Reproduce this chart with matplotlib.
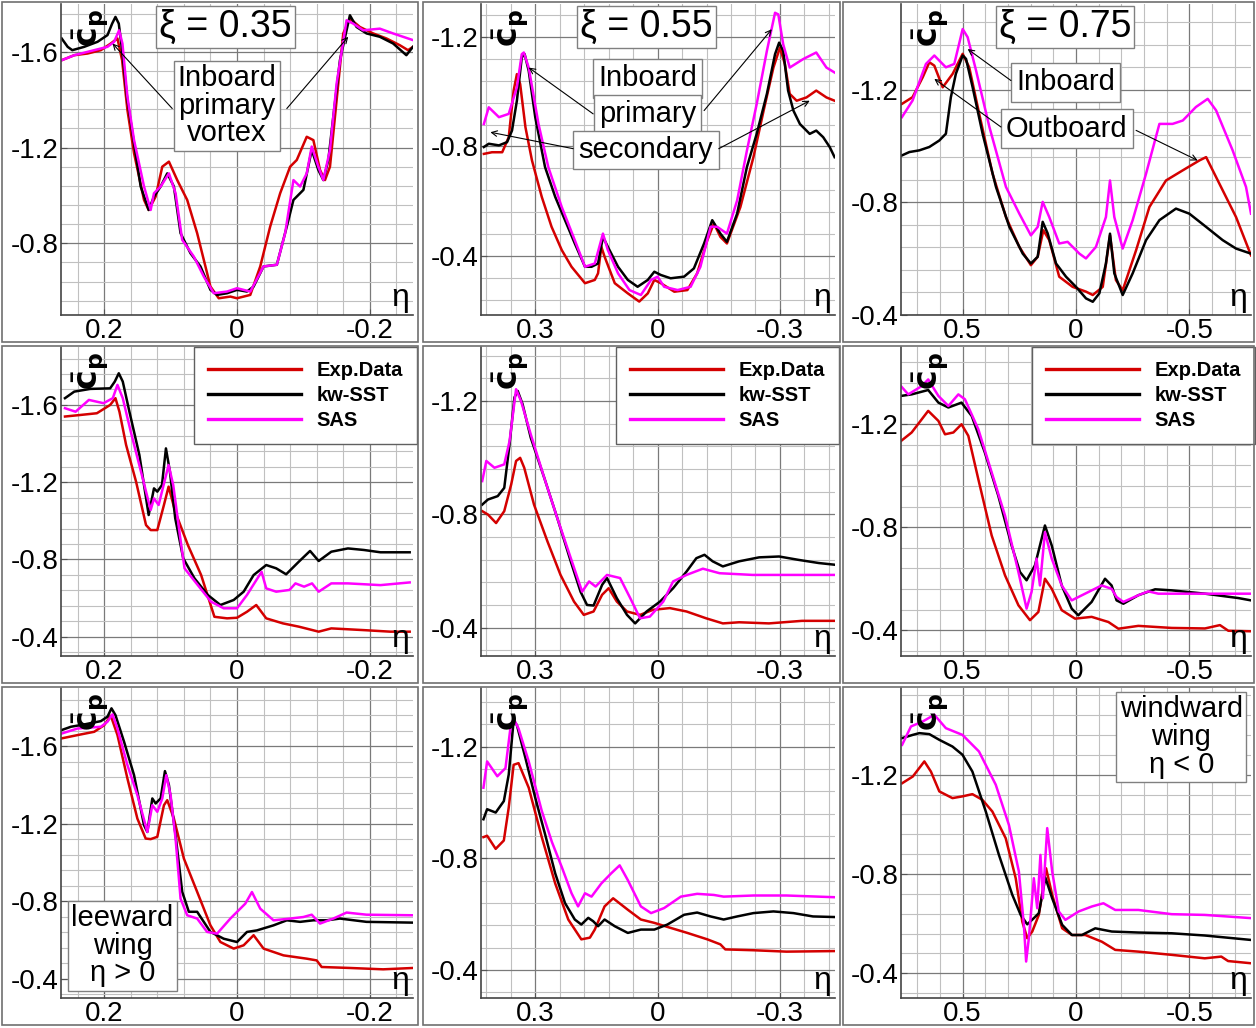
import matplotlib
matplotlib.use('Agg')
import matplotlib.pyplot as plt
from matplotlib.ticker import MultipleLocator, FuncFormatter
from matplotlib.patches import Rectangle

plt.rcParams['font.family'] = ['Liberation Sans', 'DejaVu Sans']
plt.rcParams['axes.unicode_minus'] = False

# ---------------- xi = 0.35, first row ----------------
eta_a_sst = [0.264, 0.255, 0.248, 0.230, 0.210, 0.195, 0.188, 0.183, 0.178, 0.173, 0.165, 0.155, 0.145, 0.133,
             0.125, 0.115, 0.105, 0.095, 0.085, 0.070, 0.055, 0.040, 0.030, 0.015, 0.000, -0.015, -0.025, -0.040,
             -0.060, -0.075, -0.085, -0.100, -0.1125, -0.1225, -0.130, -0.1375, -0.145, -0.155, -0.170, -0.180,
             -0.195, -0.215, -0.235, -0.255, -0.265]
cp_a_sst = [-1.656, -1.621, -1.607, -1.621, -1.642, -1.670, -1.718, -1.746, -1.718, -1.607, -1.398, -1.217, -1.037,
            -0.939, -0.995, -1.037, -1.092, -1.037, -0.842, -0.758, -0.703, -0.605, -0.584, -0.591, -0.605, -0.598,
            -0.619, -0.703, -0.710, -0.870, -0.981, -1.023, -1.190, -1.106, -1.064, -1.148, -1.329, -1.565, -1.753,
            -1.704, -1.677, -1.663, -1.635, -1.586, -1.621]
eta_a_exp = [0.264, 0.245, 0.225, 0.205, 0.190, 0.180, 0.173, 0.165, 0.155, 0.140, 0.133, 0.1225, 0.1125, 0.1025,
             0.090, 0.075, 0.060, 0.040, 0.0275, 0.010, 0.000, -0.020, -0.035, -0.050, -0.065, -0.080, -0.090,
             -0.105, -0.115, -0.125, -0.1325, -0.140, -0.150, -0.160, -0.170, -0.185, -0.205, -0.225, -0.245,
             -0.2575, -0.265]
cp_a_exp = [-1.565, -1.586, -1.593, -1.607, -1.635, -1.656, -1.565, -1.357, -1.176, -0.981, -0.939, -0.995, -1.120,
            -1.141, -1.064, -0.981, -0.842, -0.619, -0.570, -0.577, -0.570, -0.584, -0.703, -0.870, -1.009, -1.120,
            -1.148, -1.245, -1.231, -1.106, -1.064, -1.120, -1.398, -1.677, -1.739, -1.704, -1.677, -1.656, -1.628,
            -1.607, -1.621]
eta_a_sas = [0.264, 0.245, 0.215, 0.195, 0.185, 0.1775, 0.1725, 0.165, 0.155, 0.140, 0.130, 0.125, 0.115, 0.1025,
             0.0925, 0.0825, 0.065, 0.050, 0.035, 0.015, 0.000, -0.020, -0.040, -0.060, -0.0725, -0.085, -0.095,
             -0.105, -0.1125, -0.1225, -0.130, -0.140, -0.150, -0.165, -0.175, -0.190, -0.215, -0.235, -0.265]
cp_a_sas = [-1.565, -1.586, -1.607, -1.621, -1.642, -1.690, -1.635, -1.412, -1.231, -1.037, -0.939, -1.009, -1.037,
            -1.092, -1.009, -0.814, -0.744, -0.661, -0.591, -0.598, -0.612, -0.598, -0.703, -0.710, -0.842, -1.064,
            -1.037, -1.092, -1.204, -1.120, -1.064, -1.190, -1.468, -1.732, -1.718, -1.690, -1.697, -1.677, -1.649]

# ---------------- xi = 0.55, first row ----------------
eta_b_sst = [0.426, 0.414, 0.389, 0.369, 0.357, 0.345, 0.333, 0.326, 0.316, 0.300, 0.276, 0.251, 0.227, 0.203,
             0.178, 0.162, 0.146, 0.134, 0.122, 0.097, 0.073, 0.049, 0.024, 0.008, -0.008, -0.032, -0.065, -0.089,
             -0.114, -0.134, -0.154, -0.170, -0.195, -0.219, -0.243, -0.268, -0.288, -0.298, -0.308, -0.320,
             -0.333, -0.349, -0.373, -0.389, -0.406, -0.422, -0.434]
cp_b_sst = [-0.798, -0.810, -0.804, -0.816, -0.858, -0.967, -1.125, -1.137, -1.076, -0.907, -0.725, -0.616, -0.531,
            -0.446, -0.361, -0.361, -0.373, -0.470, -0.434, -0.361, -0.313, -0.288, -0.313, -0.343, -0.331, -0.319,
            -0.325, -0.355, -0.446, -0.531, -0.482, -0.452, -0.555, -0.725, -0.846, -0.992, -1.137, -1.179, -1.149,
            -1.004, -0.931, -0.882, -0.846, -0.858, -0.834, -0.798, -0.761]
eta_b_exp = [0.426, 0.406, 0.381, 0.365, 0.353, 0.345, 0.337, 0.324, 0.308, 0.284, 0.260, 0.235, 0.211, 0.178,
             0.154, 0.146, 0.138, 0.130, 0.105, 0.073, 0.045, 0.024, 0.008, -0.008, -0.041, -0.073, -0.097, -0.122,
             -0.138, -0.154, -0.170, -0.203, -0.235, -0.260, -0.284, -0.300, -0.312, -0.324, -0.341, -0.365,
             -0.389, -0.414, -0.434]
cp_b_exp = [-0.773, -0.779, -0.779, -0.834, -1.004, -1.064, -1.028, -0.870, -0.749, -0.616, -0.507, -0.422, -0.361,
            -0.301, -0.313, -0.337, -0.434, -0.398, -0.301, -0.264, -0.234, -0.264, -0.313, -0.301, -0.270, -0.276,
            -0.337, -0.458, -0.519, -0.470, -0.446, -0.579, -0.761, -0.931, -1.088, -1.161, -1.101, -0.992, -0.967,
            -0.979, -1.004, -0.979, -0.967]
eta_b_sas = [0.426, 0.414, 0.389, 0.365, 0.345, 0.333, 0.328, 0.316, 0.292, 0.268, 0.235, 0.203, 0.178, 0.154,
             0.134, 0.122, 0.097, 0.069, 0.041, 0.016, 0.000, -0.016, -0.049, -0.081, -0.105, -0.130, -0.146,
             -0.170, -0.195, -0.219, -0.243, -0.268, -0.288, -0.296, -0.308, -0.324, -0.357, -0.389, -0.414, -0.434]
cp_b_sas = [-0.882, -0.943, -0.907, -0.919, -1.016, -1.137, -1.143, -1.088, -0.882, -0.725, -0.579, -0.458, -0.361,
            -0.373, -0.482, -0.422, -0.337, -0.276, -0.258, -0.313, -0.325, -0.288, -0.276, -0.288, -0.361, -0.507,
            -0.507, -0.482, -0.603, -0.785, -0.955, -1.149, -1.288, -1.282, -1.173, -1.088, -1.119, -1.143, -1.088,
            -1.070]

# ---------------- xi = 0.75, first row ----------------
eta_c_sst = [0.768, 0.735, 0.691, 0.647, 0.603, 0.574, 0.552, 0.530, 0.500, 0.485, 0.456, 0.412, 0.353, 0.294,
             0.235, 0.199, 0.169, 0.147, 0.125, 0.088, 0.044, 0.000, -0.044, -0.074, -0.103, -0.132, -0.150, -0.169,
             -0.206, -0.250, -0.309, -0.368, -0.441, -0.500, -0.574, -0.647, -0.706, -0.772]
cp_c_sst = [-0.967, -0.979, -0.985, -0.997, -1.020, -1.044, -1.174, -1.257, -1.322, -1.310, -1.209, -1.044, -0.855,
            -0.713, -0.618, -0.583, -0.607, -0.731, -0.690, -0.583, -0.536, -0.500, -0.459, -0.447, -0.477, -0.583,
            -0.689, -0.548, -0.471, -0.548, -0.666, -0.737, -0.778, -0.760, -0.713, -0.666, -0.636, -0.618]
eta_c_exp = [0.768, 0.721, 0.676, 0.647, 0.625, 0.588, 0.544, 0.500, 0.471, 0.427, 0.368, 0.309, 0.250, 0.199,
             0.169, 0.144, 0.118, 0.074, 0.015, -0.044, -0.074, -0.118, -0.150, -0.176, -0.206, -0.265, -0.324,
             -0.397, -0.471, -0.544, -0.574, -0.618, -0.706, -0.772]
cp_c_exp = [-1.150, -1.174, -1.245, -1.298, -1.286, -1.209, -1.257, -1.328, -1.280, -1.115, -0.902, -0.748, -0.642,
            -0.577, -0.607, -0.701, -0.666, -0.536, -0.500, -0.483, -0.471, -0.500, -0.683, -0.524, -0.488, -0.630,
            -0.784, -0.878, -0.914, -0.949, -0.961, -0.890, -0.748, -0.612]
eta_c_sas = [0.768, 0.721, 0.662, 0.625, 0.574, 0.537, 0.500, 0.478, 0.441, 0.382, 0.309, 0.250, 0.199, 0.169,
             0.147, 0.118, 0.074, 0.037, -0.015, -0.044, -0.088, -0.132, -0.150, -0.169, -0.206, -0.250, -0.309,
             -0.368, -0.426, -0.471, -0.529, -0.581, -0.618, -0.691, -0.750, -0.772]
cp_c_sas = [-1.103, -1.162, -1.292, -1.322, -1.280, -1.292, -1.416, -1.387, -1.269, -1.068, -0.855, -0.760, -0.683,
            -0.713, -0.802, -0.748, -0.654, -0.660, -0.618, -0.601, -0.642, -0.748, -0.878, -0.748, -0.636, -0.737,
            -0.902, -1.079, -1.079, -1.091, -1.139, -1.168, -1.127, -0.985, -0.855, -0.760]

# ---------------- xi = 0.35, second row ----------------
eta_d_sst = [0.259, 0.245, 0.221, 0.191, 0.184, 0.178, 0.172, 0.162, 0.147, 0.133, 0.125, 0.120, 0.113, 0.107,
             0.101, 0.093, 0.081, 0.064, 0.044, 0.025, 0.005, -0.010, -0.025, -0.044, -0.059, -0.074, -0.093,
             -0.110, -0.123, -0.142, -0.167, -0.191, -0.216, -0.260]
cp_d_sst = [-1.635, -1.669, -1.683, -1.686, -1.721, -1.764, -1.721, -1.565, -1.341, -1.030, -1.168, -1.151, -1.185,
            -1.375, -1.255, -1.013, -0.806, -0.702, -0.616, -0.564, -0.590, -0.633, -0.719, -0.771, -0.754, -0.723,
            -0.788, -0.844, -0.792, -0.840, -0.857, -0.849, -0.837, -0.837]
eta_d_exp = [0.259, 0.236, 0.211, 0.191, 0.183, 0.177, 0.167, 0.152, 0.137, 0.130, 0.120, 0.110, 0.103, 0.093,
             0.074, 0.054, 0.034, 0.015, 0.000, -0.015, -0.029, -0.044, -0.069, -0.093, -0.123, -0.142, -0.191,
             -0.231, -0.260]
cp_d_exp = [-1.540, -1.548, -1.557, -1.600, -1.635, -1.565, -1.393, -1.203, -0.978, -0.952, -0.952, -1.082, -1.177,
            -1.047, -0.875, -0.719, -0.503, -0.495, -0.498, -0.529, -0.564, -0.495, -0.469, -0.452, -0.426, -0.443,
            -0.434, -0.426, -0.426]
eta_d_sas = [0.259, 0.243, 0.223, 0.201, 0.187, 0.180, 0.172, 0.160, 0.142, 0.130, 0.125, 0.118, 0.108, 0.103,
             0.096, 0.086, 0.079, 0.059, 0.039, 0.020, 0.000, -0.015, -0.037, -0.044, -0.059, -0.079, -0.088,
             -0.101, -0.113, -0.123, -0.142, -0.167, -0.216, -0.260]
cp_d_sas = [-1.583, -1.565, -1.626, -1.609, -1.635, -1.704, -1.635, -1.462, -1.220, -1.056, -1.116, -1.082, -1.220,
            -1.289, -1.185, -0.926, -0.754, -0.667, -0.581, -0.547, -0.547, -0.616, -0.736, -0.650, -0.633, -0.642,
            -0.676, -0.659, -0.676, -0.633, -0.676, -0.676, -0.667, -0.681]

# ---------------- xi = 0.55, second row ----------------
eta_e_sst = [0.430, 0.416, 0.392, 0.376, 0.363, 0.351, 0.343, 0.331, 0.311, 0.278, 0.246, 0.213, 0.189, 0.173,
             0.157, 0.136, 0.124, 0.100, 0.075, 0.055, 0.027, -0.006, -0.038, -0.071, -0.095, -0.115, -0.135,
             -0.160, -0.200, -0.249, -0.298, -0.346, -0.395, -0.434]
cp_e_sst = [-0.834, -0.852, -0.864, -0.893, -1.047, -1.212, -1.235, -1.188, -1.070, -0.929, -0.787, -0.634, -0.527,
            -0.480, -0.478, -0.551, -0.575, -0.504, -0.445, -0.415, -0.457, -0.492, -0.539, -0.598, -0.645, -0.657,
            -0.634, -0.616, -0.634, -0.648, -0.651, -0.639, -0.628, -0.622]
eta_e_exp = [0.430, 0.416, 0.396, 0.376, 0.359, 0.347, 0.337, 0.327, 0.303, 0.270, 0.238, 0.205, 0.181, 0.157,
             0.136, 0.120, 0.100, 0.075, 0.043, 0.011, -0.030, -0.071, -0.119, -0.160, -0.200, -0.273, -0.354, -0.434]
cp_e_exp = [-0.811, -0.799, -0.769, -0.811, -0.905, -0.988, -0.999, -0.964, -0.834, -0.704, -0.586, -0.492, -0.445,
            -0.457, -0.516, -0.539, -0.492, -0.457, -0.445, -0.463, -0.469, -0.457, -0.433, -0.415, -0.419, -0.415,
            -0.424, -0.424]
eta_e_sas = [0.430, 0.420, 0.400, 0.376, 0.363, 0.347, 0.335, 0.311, 0.278, 0.246, 0.213, 0.185, 0.168, 0.152,
             0.124, 0.092, 0.067, 0.043, 0.019, -0.014, -0.038, -0.071, -0.111, -0.152, -0.233, -0.314, -0.434]
cp_e_sas = [-0.917, -0.988, -0.964, -0.976, -1.058, -1.241, -1.200, -1.082, -0.929, -0.787, -0.646, -0.527, -0.563,
            -0.545, -0.586, -0.575, -0.504, -0.433, -0.439, -0.492, -0.563, -0.586, -0.608, -0.592, -0.586, -0.586,
            -0.586]

# ---------------- xi = 0.75, second row ----------------
eta_f_sst = [0.772, 0.725, 0.652, 0.607, 0.563, 0.505, 0.460, 0.402, 0.343, 0.284, 0.247, 0.218, 0.181, 0.137,
             0.107, 0.063, 0.019, -0.010, -0.069, -0.128, -0.157, -0.179, -0.209, -0.275, -0.349, -0.422, -0.569,
             -0.716, -0.772]
cp_f_sst = [-1.310, -1.316, -1.333, -1.284, -1.265, -1.284, -1.232, -1.090, -0.923, -0.729, -0.626, -0.594, -0.652,
            -0.807, -0.729, -0.574, -0.484, -0.458, -0.510, -0.600, -0.574, -0.516, -0.503, -0.536, -0.559, -0.555,
            -0.542, -0.525, -0.516]
eta_f_exp = [0.772, 0.725, 0.652, 0.607, 0.578, 0.541, 0.505, 0.475, 0.431, 0.372, 0.313, 0.254, 0.203, 0.166,
             0.137, 0.107, 0.063, 0.004, -0.069, -0.143, -0.187, -0.275, -0.422, -0.569, -0.635, -0.672, -0.772]
cp_f_exp = [-1.135, -1.168, -1.252, -1.213, -1.161, -1.168, -1.200, -1.155, -0.987, -0.768, -0.613, -0.497, -0.439,
            -0.471, -0.600, -0.561, -0.478, -0.445, -0.452, -0.432, -0.406, -0.417, -0.409, -0.407, -0.420, -0.398,
            -0.396]
eta_f_sas = [0.772, 0.740, 0.681, 0.652, 0.607, 0.563, 0.519, 0.490, 0.431, 0.372, 0.313, 0.254, 0.218, 0.196,
             0.174, 0.159, 0.137, 0.107, 0.063, 0.019, -0.040, -0.113, -0.157, -0.179, -0.209, -0.275, -0.319,
             -0.363, -0.496, -0.772]
cp_f_sas = [-1.348, -1.316, -1.348, -1.374, -1.310, -1.271, -1.316, -1.297, -1.181, -1.013, -0.845, -0.626, -0.484,
            -0.549, -0.678, -0.574, -0.781, -0.678, -0.574, -0.516, -0.542, -0.574, -0.561, -0.529, -0.510, -0.536,
            -0.551, -0.542, -0.542, -0.542]

# ---------------- xi = 0.35, third row ----------------
eta_g_sst = [0.264, 0.250, 0.230, 0.205, 0.195, 0.189, 0.183, 0.170, 0.155, 0.140, 0.135, 0.1275, 0.1225, 0.115,
             0.1085, 0.1025, 0.0925, 0.0825, 0.0725, 0.060, 0.050, 0.040, 0.020, 0.000, -0.015, -0.030, -0.055,
             -0.075, -0.095, -0.115, -0.135, -0.155, -0.195, -0.265]
cp_g_sst = [-1.683, -1.700, -1.712, -1.729, -1.752, -1.795, -1.760, -1.622, -1.450, -1.192, -1.157, -1.330, -1.304,
            -1.330, -1.471, -1.399, -1.140, -0.848, -0.745, -0.745, -0.693, -0.641, -0.606, -0.589, -0.641, -0.649,
            -0.675, -0.701, -0.693, -0.701, -0.701, -0.710, -0.693, -0.689]
eta_g_exp = [0.264, 0.240, 0.215, 0.200, 0.190, 0.180, 0.165, 0.150, 0.1375, 0.130, 0.120, 0.110, 0.105, 0.095,
             0.080, 0.060, 0.040, 0.025, 0.005, -0.010, -0.025, -0.040, -0.070, -0.105, -0.120, -0.1275, -0.170,
             -0.220, -0.265]
cp_g_exp = [-1.640, -1.657, -1.674, -1.708, -1.757, -1.657, -1.433, -1.226, -1.123, -1.120, -1.132, -1.295, -1.321,
            -1.226, -1.020, -0.848, -0.675, -0.589, -0.555, -0.572, -0.624, -0.555, -0.520, -0.503, -0.494, -0.460,
            -0.455, -0.448, -0.455]
eta_g_sas = [0.264, 0.240, 0.205, 0.195, 0.1875, 0.180, 0.165, 0.150, 0.135, 0.1275, 0.120, 0.1125, 0.1065, 0.100,
             0.0925, 0.085, 0.075, 0.060, 0.045, 0.030, 0.010, -0.0125, -0.0225, -0.035, -0.055, -0.080, -0.100,
             -0.1125, -0.125, -0.145, -0.165, -0.195, -0.265]
cp_g_sas = [-1.665, -1.691, -1.700, -1.726, -1.764, -1.691, -1.502, -1.347, -1.157, -1.295, -1.261, -1.330, -1.450,
            -1.347, -1.123, -0.813, -0.727, -0.710, -0.641, -0.632, -0.710, -0.787, -0.847, -0.761, -0.701, -0.710,
            -0.718, -0.730, -0.684, -0.710, -0.741, -0.730, -0.727]

# ---------------- xi = 0.55, third row ----------------
eta_h_sst = [0.427, 0.418, 0.397, 0.377, 0.365, 0.353, 0.345, 0.324, 0.300, 0.276, 0.251, 0.227, 0.203, 0.187,
             0.170, 0.158, 0.146, 0.130, 0.105, 0.073, 0.041, 0.008, -0.024, -0.065, -0.097, -0.130, -0.162, -0.195,
             -0.235, -0.284, -0.333, -0.381, -0.432]
cp_h_sst = [-0.940, -0.976, -0.964, -1.005, -1.100, -1.294, -1.277, -1.159, -1.017, -0.887, -0.746, -0.640, -0.581,
            -0.563, -0.587, -0.575, -0.557, -0.581, -0.557, -0.533, -0.545, -0.545, -0.563, -0.598, -0.606, -0.592,
            -0.581, -0.592, -0.604, -0.610, -0.604, -0.592, -0.590]
eta_h_exp = [0.427, 0.418, 0.397, 0.377, 0.365, 0.353, 0.341, 0.316, 0.284, 0.251, 0.219, 0.187, 0.166, 0.154,
             0.130, 0.109, 0.073, 0.041, 0.008, -0.032, -0.073, -0.122, -0.154, -0.166, -0.235, -0.316, -0.432]
cp_h_exp = [-0.876, -0.881, -0.834, -0.864, -0.982, -1.135, -1.141, -1.053, -0.876, -0.710, -0.581, -0.510, -0.516,
            -0.545, -0.628, -0.657, -0.616, -0.581, -0.569, -0.551, -0.533, -0.510, -0.492, -0.474, -0.471, -0.466,
            -0.468]
eta_h_sas = [0.427, 0.418, 0.393, 0.373, 0.361, 0.353, 0.341, 0.316, 0.284, 0.259, 0.235, 0.211, 0.195, 0.178,
             0.162, 0.138, 0.114, 0.093, 0.073, 0.041, 0.016, -0.016, -0.057, -0.097, -0.138, -0.162, -0.235,
             -0.316, -0.432]
cp_h_sas = [-1.053, -1.147, -1.094, -1.123, -1.265, -1.300, -1.265, -1.147, -0.970, -0.858, -0.769, -0.675, -0.628,
            -0.675, -0.663, -0.710, -0.746, -0.775, -0.722, -0.628, -0.604, -0.622, -0.663, -0.673, -0.669, -0.663,
            -0.667, -0.667, -0.661]

# ---------------- xi = 0.75, third row ----------------
eta_i_sst = [0.767, 0.720, 0.691, 0.647, 0.603, 0.545, 0.501, 0.457, 0.398, 0.340, 0.281, 0.244, 0.215, 0.186,
             0.164, 0.135, 0.105, 0.061, 0.018, -0.026, -0.085, -0.158, -0.275, -0.422, -0.568, -0.773]
cp_i_sst = [-1.348, -1.361, -1.368, -1.364, -1.341, -1.314, -1.281, -1.213, -1.052, -0.877, -0.716, -0.635, -0.597,
            -0.622, -0.642, -0.785, -0.702, -0.595, -0.554, -0.554, -0.581, -0.568, -0.564, -0.561, -0.552, -0.534]
eta_i_exp = [0.767, 0.720, 0.669, 0.640, 0.603, 0.545, 0.501, 0.457, 0.413, 0.369, 0.310, 0.266, 0.237, 0.215,
             0.193, 0.164, 0.132, 0.105, 0.061, 0.018, -0.041, -0.114, -0.173, -0.275, -0.422, -0.568, -0.641,
             -0.671, -0.773]
cp_i_exp = [-1.166, -1.193, -1.254, -1.213, -1.133, -1.106, -1.113, -1.122, -1.099, -1.052, -0.944, -0.783, -0.608,
            -0.541, -0.568, -0.635, -0.823, -0.716, -0.581, -0.554, -0.554, -0.527, -0.494, -0.487, -0.474, -0.460,
            -0.467, -0.449, -0.440]
eta_i_sas = [0.767, 0.728, 0.676, 0.625, 0.574, 0.501, 0.428, 0.354, 0.296, 0.252, 0.230, 0.220, 0.208, 0.186,
             0.171, 0.157, 0.146, 0.127, 0.105, 0.076, 0.047, -0.012, -0.070, -0.121, -0.173, -0.275, -0.422,
             -0.568, -0.773]
cp_i_sas = [-1.321, -1.395, -1.415, -1.442, -1.388, -1.361, -1.294, -1.160, -0.998, -0.810, -0.595, -0.447, -0.541,
            -0.783, -0.662, -0.877, -0.702, -0.985, -0.810, -0.649, -0.615, -0.649, -0.669, -0.682, -0.655, -0.655,
            -0.638, -0.635, -0.622]

series_labels = ['Exp.Data', 'kw-SST', 'SAS']
xi_labels = ['\u03be = 0.35', '\u03be = 0.55', '\u03be = 0.75']

panels = [
    [(eta_a_exp, cp_a_exp, eta_a_sst, cp_a_sst, eta_a_sas, cp_a_sas),
     (eta_b_exp, cp_b_exp, eta_b_sst, cp_b_sst, eta_b_sas, cp_b_sas),
     (eta_c_exp, cp_c_exp, eta_c_sst, cp_c_sst, eta_c_sas, cp_c_sas)],
    [(eta_d_exp, cp_d_exp, eta_d_sst, cp_d_sst, eta_d_sas, cp_d_sas),
     (eta_e_exp, cp_e_exp, eta_e_sst, cp_e_sst, eta_e_sas, cp_e_sas),
     (eta_f_exp, cp_f_exp, eta_f_sst, cp_f_sst, eta_f_sas, cp_f_sas)],
    [(eta_g_exp, cp_g_exp, eta_g_sst, cp_g_sst, eta_g_sas, cp_g_sas),
     (eta_h_exp, cp_h_exp, eta_h_sst, cp_h_sst, eta_h_sas, cp_h_sas),
     (eta_i_exp, cp_i_exp, eta_i_sst, cp_i_sst, eta_i_sas, cp_i_sas)],
]

colors = ['#d40000', 'black', '#ff00ff']

xlims = [(0.265, -0.265), (0.433, -0.435), (0.772, -0.772)]
xmajor = [0.2, 0.3, 0.5]
xminor = [0.04, 0.06, 0.1]
ylims = [[(-0.50, -1.80), (-0.185, -1.32), (-0.40, -1.505)],
         [(-0.30, -1.90), (-0.30, -1.39), (-0.30, -1.50)],
         [(-0.30, -1.90), (-0.30, -1.41), (-0.30, -1.55)]]

W, H = 1256, 1028
fig = plt.figure(figsize=(W / 100, H / 100), dpi=100)

col_px = [(61, 413), (481, 835), (901, 1251)]
row_px = [(4, 315), (347, 656), (688, 998)]
frame_col = [(2, 418), (423, 840), (843, 1254)]
frame_row = [(2, 342), (346, 683), (687, 1025)]

fmt = FuncFormatter(lambda v, p: '0' if abs(v) < 1e-9 else f'{v:g}')
box = dict(boxstyle='square,pad=0.18', fc='white', ec='#808080', lw=1)

axes = [[None] * 3 for _ in range(3)]
for r in range(3):
    for c in range(3):
        fx0, fx1 = frame_col[c]
        fy0, fy1 = frame_row[r]
        fig.add_artist(Rectangle((fx0 / W, 1 - fy1 / H), (fx1 - fx0) / W, (fy1 - fy0) / H,
                                 transform=fig.transFigure, fill=False, ec='#707070', lw=1.2))
        x0, x1 = col_px[c]
        y0, y1 = row_px[r]
        ax = fig.add_axes([x0 / W, 1 - y1 / H, (x1 - x0) / W, (y1 - y0) / H])
        axes[r][c] = ax
        e1, p1, e2, p2, e3, p3 = panels[r][c]
        ax.plot(e1, p1, color=colors[0], lw=1.8, label=series_labels[0])
        ax.plot(e2, p2, color=colors[1], lw=1.8, label=series_labels[1])
        ax.plot(e3, p3, color=colors[2], lw=1.8, label=series_labels[2])
        ax.set_xlim(*xlims[c])
        ax.set_ylim(*ylims[r][c])
        ax.xaxis.set_major_locator(MultipleLocator(xmajor[c]))
        ax.xaxis.set_minor_locator(MultipleLocator(xminor[c]))
        ax.yaxis.set_major_locator(MultipleLocator(0.4))
        ax.yaxis.set_minor_locator(MultipleLocator(0.08))
        ax.xaxis.set_major_formatter(fmt)
        ax.yaxis.set_major_formatter(fmt)
        ax.set_axisbelow(True)
        ax.grid(which='major', color='#7a7a7a', lw=0.9)
        ax.grid(which='minor', color='#c0c0c0', lw=0.8)
        ax.tick_params(which='both', direction='in', labelsize=20, color='#555555', pad=2)
        ax.tick_params(which='major', length=4)
        ax.tick_params(which='minor', length=0)
        for s in ['top', 'right']:
            ax.spines[s].set_visible(False)
        for s in ['left', 'bottom']:
            ax.spines[s].set_color('#444444')
            ax.spines[s].set_linewidth(1.2)
        ax.text(0.028, 0.985, r'$\bar{\mathbf{c}}_\mathbf{p}$', transform=ax.transAxes,
                rotation=90, ha='left', va='top', fontsize=24)
        ax.text(0.99, 0.005, '\u03b7', transform=ax.transAxes, ha='right', va='bottom', fontsize=23)

# station labels on top row
for c in range(3):
    axes[0][c].text(0.468, 0.926, xi_labels[c], transform=axes[0][c].transAxes, ha='center', va='center',
                    fontsize=27, bbox=dict(boxstyle='square,pad=0.08', fc='white', ec='#808080', lw=1))

arrow = dict(arrowstyle='->', lw=0.8, color='black', shrinkA=0, shrinkB=0)

ax = axes[0][0]
ax.text(0.472, 0.673, 'Inboard\nprimary\nvortex', transform=ax.transAxes, ha='center', va='center',
        fontsize=21, linespacing=0.98, bbox=dict(boxstyle='square,pad=0.12', fc='white', ec='#808080', lw=1))
ax.annotate('', xy=(0.1875, -1.635), xytext=(0.0975, -1.363), arrowprops=arrow)
ax.annotate('', xy=(-0.1675, -1.663), xytext=(-0.075, -1.363), arrowprops=arrow)

ax = axes[0][1]
ax.text(0.470, 0.761, 'Inboard', transform=ax.transAxes, ha='center', va='center', fontsize=21, bbox=box)
ax.text(0.470, 0.647, 'primary', transform=ax.transAxes, ha='center', va='center', fontsize=21, bbox=box)
ax.text(0.466, 0.530, 'secondary', transform=ax.transAxes, ha='center', va='center', fontsize=21, bbox=box)
ax.annotate('', xy=(0.316, -1.088), xytext=(0.158, -0.919), arrowprops=arrow)
ax.annotate('', xy=(-0.280, -1.228), xytext=(-0.114, -0.931), arrowprops=arrow)
ax.annotate('', xy=(0.410, -0.852), xytext=(0.207, -0.792), arrowprops=arrow)
ax.annotate('', xy=(-0.373, -0.967), xytext=(-0.150, -0.792), arrowprops=arrow)

ax = axes[0][2]
ax.text(0.470, 0.748, 'Inboard', transform=ax.transAxes, ha='center', va='center', fontsize=21, bbox=box)
ax.text(0.474, 0.599, 'Outboard', transform=ax.transAxes, ha='center', va='center', fontsize=21, bbox=box)
ax.annotate('', xy=(0.478, -1.345), xytext=(0.287, -1.233), arrowprops=arrow)
ax.annotate('', xy=(0.625, -1.239), xytext=(0.331, -1.068), arrowprops=arrow)
ax.annotate('', xy=(-0.537, -0.949), xytext=(-0.265, -1.056), arrowprops=arrow)

# legends on the second row
for c in range(3):
    leg = axes[1][c].legend(loc='upper right', bbox_to_anchor=(1.012, 1.0), borderaxespad=0, fancybox=False,
                            framealpha=1, edgecolor='#606060', prop={'weight': 'bold', 'size': 14.5},
                            handlelength=4.6, labelspacing=0.3, borderpad=0.7, handletextpad=0.8)
    leg.get_frame().set_linewidth(1.0)
    for ln in leg.get_lines():
        ln.set_linewidth(2.4)

axes[2][0].text(0.175, 0.168, 'leeward\nwing\n\u03b7 > 0', transform=axes[2][0].transAxes, ha='center',
                va='center', fontsize=21, linespacing=0.98,
                bbox=dict(boxstyle='square,pad=0.12', fc='white', ec='#808080', lw=1))
axes[2][2].text(0.801, 0.842, 'windward\nwing\n\u03b7 < 0', transform=axes[2][2].transAxes, ha='center',
                va='center', fontsize=21, linespacing=0.98,
                bbox=dict(boxstyle='square,pad=0.12', fc='white', ec='#808080', lw=1))

fig.savefig('out.png', dpi=100)
